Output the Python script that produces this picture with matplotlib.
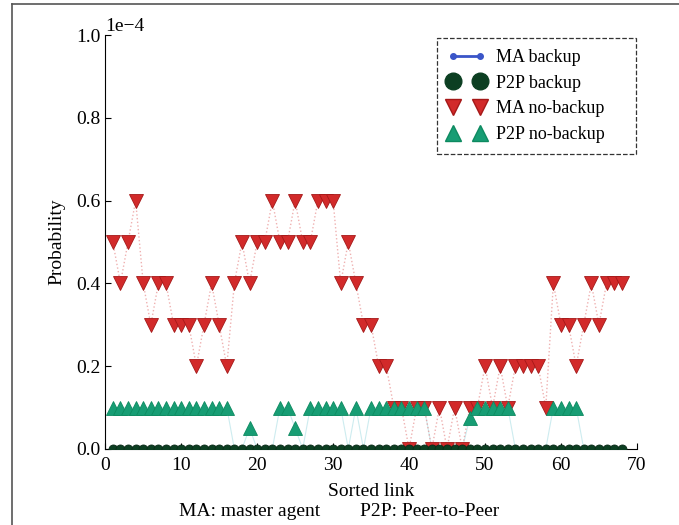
import numpy as np
import matplotlib
matplotlib.use("Agg")
import matplotlib.pyplot as plt
from matplotlib.lines import Line2D

plt.rcParams['font.family'] = ['Liberation Serif', 'DejaVu Serif']
plt.rcParams['mathtext.fontset'] = 'stix'

links = list(range(1, 69))
scale = 1e-4
ma_backup = [0.0] * 68
p2p_backup = [0.0] * 68
ma_nobackup = [0.5, 0.4, 0.5, 0.6, 0.4, 0.3, 0.4, 0.4, 0.3, 0.3,
               0.3, 0.2, 0.3, 0.4, 0.3, 0.2, 0.4, 0.5, 0.4, 0.5,
               0.5, 0.6, 0.5, 0.5, 0.6, 0.5, 0.5, 0.6, 0.6, 0.6,
               0.4, 0.5, 0.4, 0.3, 0.3, 0.2, 0.2, 0.1, 0.1, 0.0,
               0.1, 0.1, 0.0, 0.1, 0.0, 0.1, 0.0, 0.1, 0.1, 0.2,
               0.1, 0.2, 0.1, 0.2, 0.2, 0.2, 0.2, 0.1, 0.4, 0.3,
               0.3, 0.2, 0.3, 0.4, 0.3, 0.4, 0.4, 0.4]
p2p_nobackup = [0.1] * 16 + [0.0, 0.0, 0.05, 0.0, 0.0, 0.0, 0.1, 0.1, 0.05, 0.0] \
    + [0.1] * 5 + [0.0, 0.1, 0.0] + [0.1] * 8 + [0.0] * 5 + [0.075] \
    + [0.1] * 5 + [0.0] * 5 + [0.1] * 4 + [0.0] * 6
xticks = [0, 10, 20, 30, 40, 50, 60, 70]
yticks = [0.0, 0.2, 0.4, 0.6, 0.8, 1.0]
labels = ['MA backup', 'P2P backup', 'MA no-backup', 'P2P no-backup']

x = np.array(links)
mab = np.array(ma_backup) * scale
p2b = np.array(p2p_backup) * scale
man = np.array(ma_nobackup) * scale
p2n = np.array(p2p_nobackup) * scale
p2n_mark = np.ma.masked_where(np.array(p2p_nobackup) == 0, p2n)

RED = '#d22a2a'
RED_E = '#a51818'
GRN = '#179d74'
GRN_E = '#0d8a60'
DKG = '#0c3f22'
BLU = '#3a55c8'

fig = plt.figure(figsize=(6.79, 5.25), dpi=100)
ax = fig.add_axes([0.155, 0.145, 0.783, 0.788])

ax.plot(x, man, color='#e89090', ls=':', lw=1.0, alpha=0.7, zorder=2)
ax.plot(x, p2n, color='#c8eaee', ls='-', lw=0.8, alpha=0.9, zorder=1)
ax.plot(x, mab, color=BLU, lw=1.2, zorder=3)
ax.plot(x, man, ls='none', marker='v', ms=9.5, mfc=RED, mec=RED_E, mew=0.6, zorder=4)
ax.plot(x, p2n_mark, ls='none', marker='^', ms=9.5, mfc=GRN, mec=GRN_E, mew=0.6, zorder=5)
ax.plot(x, p2b, ls='none', marker='o', ms=6.5, mfc=DKG, mec='#0a2a18', mew=0.6, zorder=6)

ax.set_xlim(0, 70)
ax.set_ylim(0, 1.0 * scale)
ax.set_xticks(xticks)
ax.set_yticks([v * scale for v in yticks])
ax.ticklabel_format(style='sci', axis='y', scilimits=(0, 0))
ax.yaxis.get_offset_text().set_fontsize(14)
ax.tick_params(direction='in', labelsize=14, length=4, width=0.8)
ax.tick_params(axis='x', pad=6)
ax.spines['top'].set_visible(False)
ax.spines['right'].set_visible(False)
ax.set_xlabel('Sorted link', fontsize=14, labelpad=6)
ax.set_ylabel('Probability', fontsize=14, labelpad=8)

handles = [
    Line2D([], [], color=BLU, lw=2, marker='o', ms=4, mfc=BLU, mec=BLU),
    Line2D([], [], ls='none', marker='o', ms=12, mfc=DKG, mec=DKG),
    Line2D([], [], ls='none', marker='v', ms=11, mfc=RED, mec=RED_E),
    Line2D([], [], ls='none', marker='^', ms=11, mfc=GRN, mec=GRN_E),
]
leg = ax.legend(handles, labels, loc='upper left', bbox_to_anchor=(0.624, 0.0, 0.374, 0.993),
                mode='expand', borderaxespad=0.0,
                fontsize=13, numpoints=2, fancybox=False, framealpha=1,
                edgecolor='#333333', handlelength=2.1, handletextpad=0.55,
                labelspacing=0.48, borderpad=0.6)
leg.get_frame().set_linestyle('--')
leg.get_frame().set_linewidth(0.9)

fig.text(250 / 679, 1 - 512 / 525, 'MA: master agent', ha='center', va='center', fontsize=14)
fig.text(430 / 679, 1 - 512 / 525, 'P2P: Peer-to-Peer', ha='center', va='center', fontsize=14)

fig.add_artist(Line2D([12 / 679, 12 / 679], [0, 1 - 4 / 525], transform=fig.transFigure,
                      color='#555555', lw=1.2))
fig.add_artist(Line2D([12 / 679, 1], [1 - 4 / 525, 1 - 4 / 525], transform=fig.transFigure,
                      color='#555555', lw=1.2))

fig.savefig('out.png', dpi=100)
